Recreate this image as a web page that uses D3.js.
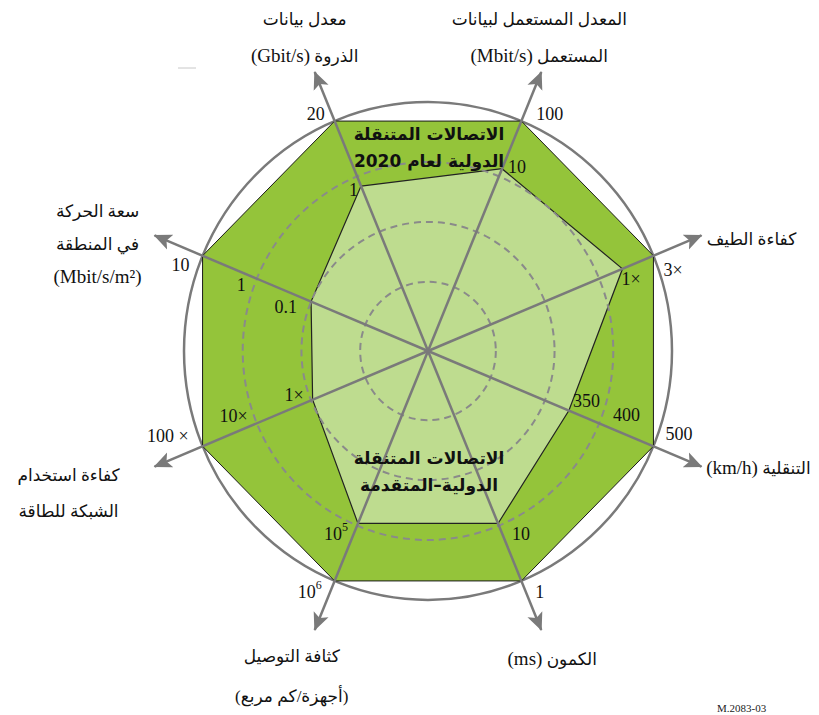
<!DOCTYPE html>
<html>
<head>
<meta charset="utf-8">
<script src="https://cdn.jsdelivr.net/npm/d3@7"></script>
<style>
  html, body { margin: 0; padding: 0; background: #fff; }
  svg { display: block; }
</style>
</head>
<body>
<svg id="chart" width="819" height="715"></svg>
<script>
// ---------------- DATA ----------------
// Axes, clockwise starting with the one to the left of the top
const axisLabels = [
  ["معدل بيانات", "الذروة (Gbit/s)"],
  ["المعدل المستعمل لبيانات", "المستعمل (Mbit/s)"],
  ["كفاءة الطيف"],
  ["التنقلية (km/h)"],
  ["الكمون (ms)"],
  ["كثافة التوصيل", "(أجهزة/كم مربع)"],
  ["كفاءة استخدام", "الشبكة للطاقة"],
  ["سعة الحركة", "في المنطقة", "(Mbit/s/m²)"]
];
const imt2020     = [20, 100, 3, 500, 1, 1e6, 100, 10];
const imtAdvanced = [1, 10, 1, 350, 10, 1e5, 1, 0.1];

const tickValues = [
  [1, 20], [10, 100], [1, 3], [350, 400, 500],
  [10, 1], [1e5, 1e6], [1, 10, 100], [0.1, 1, 10]
];
const tickLabels = [
  [["1"], ["20"]],
  [["10"], ["100"]],
  [["1×"], ["3×"]],
  [["350"], ["400"], ["500"]],
  [["10"], ["1"]],
  [["10", "5"], ["10", "6"]],
  [["1×"], ["10×"], ["100 ×"]],
  [["0.1"], ["1"], ["10"]]
];
// Scale configuration per axis
const scaleTypes = ["log", "log", "log", "linear", "log", "log", "log", "log"];
const scaleDomains = [
  [0.0005, 20], [0.0015, 100], [0.001, 3], [100, 500],
  [10000, 1], [100, 1e6], [0.008, 100], [0.0007, 10]
];
const ringValues = [0.01, 0.1, 1]; // read on the area-traffic axis
const title2020 = ["الاتصالات المتنقلة", "الدولية لعام 2020"];
const titleAdv  = ["الاتصالات المتنقلة", "الدولية–المتقدمة"];
const figureId  = "M.2083-03";

// ---------------- LAYOUT ----------------
const cx = 428, cy = 351, R = 244, ky = 1.02, arrowLen = 296;
const angles = [-22.5, 22.5, 67.5, 112.5, 157.5, 202.5, 247.5, 292.5];
const tickAnchor = ["end", "start", "start", "start", "start", "end", "end", "end"];
const tickNudge = [
  [[-3, 10], [-10, -1]],
  [[6, 4], [15, -1]],
  [[-1, 16], [10, 20]],
  [[4, -4], [16, -1], [12, -6]],
  [[14, 17], [14, 17]],
  [[-10, 17], [-13, 17]],
  [[-9, 1], [-10, -1], [-14, -4]],
  [[-14, 11], [-11, 12], [-13, 15]]
];
// axis-label centre offsets from the arrow tip, and line spacing
const labelNudge = [
  [-10, -47], [-2, -47], [50, 10], [57, 7],
  [11, 35], [-23, 32], [-86, 14], [-57, -18]
];
const lineGap = [37, 37, 0, 0, 0, 40, 36, 33];

const colOuter = "#94c43a", colInner = "#bedc8f", colAxis = "#7a7a7a";
const fontFam = "'Liberation Serif', 'DejaVu Sans', serif";

// ---------------- DRAW ----------------
const svg = d3.select("#chart");
const scales = scaleTypes.map((t, i) =>
  (t === "log" ? d3.scaleLog() : d3.scaleLinear()).domain(scaleDomains[i]).range([0, R]));

function pt(i, r) {
  const a = angles[i] * Math.PI / 180;
  return [cx + r * Math.sin(a), cy - r * Math.cos(a) * ky];
}

const defs = svg.append("defs");
defs.append("marker")
  .attr("id", "arrow").attr("markerUnits", "userSpaceOnUse")
  .attr("viewBox", "0 -9 20 18").attr("refX", 17).attr("refY", 0)
  .attr("markerWidth", 20).attr("markerHeight", 18).attr("orient", "auto")
  .append("path").attr("d", "M0,-8 L18,0 L0,8 L4,0 Z").attr("fill", colAxis);

// stray mark at top left
svg.append("line").attr("x1", 178).attr("x2", 196).attr("y1", 68).attr("y2", 68)
  .attr("stroke", "#c8c8c8").attr("stroke-width", 1);

// outer ellipse
svg.append("ellipse").attr("cx", cx).attr("cy", cy).attr("rx", R).attr("ry", R * ky)
  .attr("fill", "#fff").attr("stroke", colAxis).attr("stroke-width", 2.5);

const line = d3.line();
// IMT-2020 polygon
svg.append("path")
  .attr("d", line(imt2020.map((v, i) => pt(i, scales[i](v)))) + "Z")
  .attr("fill", colOuter).attr("stroke", "#1a1a1a").attr("stroke-width", 1);
// IMT-Advanced polygon
svg.append("path")
  .attr("d", line(imtAdvanced.map((v, i) => pt(i, scales[i](v)))) + "Z")
  .attr("fill", colInner).attr("stroke", "#222").attr("stroke-width", 1.2);

// dashed rings
svg.selectAll(".ring").data(ringValues).join("ellipse")
  .attr("cx", cx).attr("cy", cy)
  .attr("rx", d => scales[7](d)).attr("ry", d => scales[7](d) * ky)
  .attr("fill", "none").attr("stroke", "#8a8a8a").attr("stroke-width", 2)
  .attr("stroke-dasharray", "7,5");

// axes
svg.selectAll(".axis").data(angles).join("line")
  .attr("x1", cx).attr("y1", cy)
  .attr("x2", (d, i) => pt(i, arrowLen)[0]).attr("y2", (d, i) => pt(i, arrowLen)[1])
  .attr("stroke", colAxis).attr("stroke-width", 2.5).attr("marker-end", "url(#arrow)");

// tick labels
tickValues.forEach((vals, i) => {
  vals.forEach((v, j) => {
    const p = pt(i, scales[i](v));
    const lab = tickLabels[i][j];
    const t = svg.append("text")
      .attr("x", p[0] + tickNudge[i][j][0]).attr("y", p[1] + tickNudge[i][j][1])
      .attr("text-anchor", tickAnchor[i])
      .attr("font-family", fontFam).attr("font-size", 18).attr("fill", "#111");
    t.append("tspan").text(lab[0]);
    if (lab.length > 1) {
      t.append("tspan").attr("dy", -9).attr("font-size", 12).text(lab[1]);
    }
  });
});

// axis labels: Latin parts in a larger serif, Arabic parts in DejaVu Sans
const latinRe = /(\([A-Za-z\/²]+\))/;
axisLabels.forEach((lines, i) => {
  const tip = pt(i, arrowLen);
  const x = tip[0] + labelNudge[i][0], y = tip[1] + labelNudge[i][1];
  lines.forEach((s, k) => {
    const t = svg.append("text")
      .attr("x", x).attr("y", y + k * lineGap[i])
      .attr("text-anchor", "middle").attr("direction", "rtl")
      .attr("font-family", fontFam).attr("font-size", 17).attr("fill", "#111");
    s.split(latinRe).filter(p => p.length).forEach(part => {
      const sp = t.append("tspan").text(part);
      if (latinRe.test(part)) sp.attr("font-size", 19).attr("font-family", "'Liberation Serif', serif");
    });
  });
});

// titles inside
function title(lines, y0) {
  lines.forEach((s, k) => {
    svg.append("text").attr("x", cx + 1).attr("y", y0 + k * 27)
      .attr("text-anchor", "middle").attr("direction", "rtl")
      .attr("font-family", "'DejaVu Sans', sans-serif").attr("font-weight", "bold")
      .attr("font-size", 17).attr("fill", "#111").text(s);
  });
}
title(title2020, 140);
title(titleAdv, 464);

svg.append("text").attr("x", 717).attr("y", 712)
  .attr("font-family", fontFam).attr("font-size", 11).attr("fill", "#222").text(figureId);
</script>
</body>
</html>
